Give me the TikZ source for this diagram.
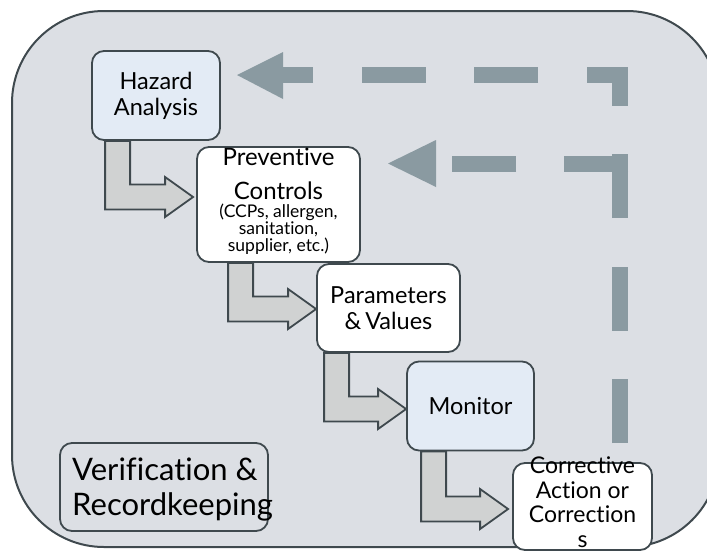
\documentclass[tikz,border=0pt]{standalone}
\usepackage{fontspec}
\setmainfont{Lato}[Ligatures=NoCommon]
\usetikzlibrary{calc}
\definecolor{bgfill}{HTML}{DCDFE4}
\definecolor{edge}{HTML}{3F494E}
\definecolor{bluefill}{HTML}{E3EBF5}
\definecolor{arrfill}{HTML}{D0D2D2}
\definecolor{dashcol}{HTML}{8A9AA1}
\newcommand{\bentarrow}[4]{%
  \coordinate (S) at ($(#1.south west)+(#2,0)$);
  \coordinate (T) at ($(#3.west)+(#4)$);
  \draw[bentarr] (S) -- ($(S|-T)+(0,12.5)$) -- ($(T)+(-28,12.5)$) -- ($(T)+(-28,20)$) -- (T)
    -- ($(T)+(-28,-20)$) -- ($(T)+(-28,-12.5)$) -- ($(S|-T)+(25,-12.5)$) -- ($(S)+(25,0)$) -- cycle;}
\begin{document}
\begin{tikzpicture}[x=1pt,y=-1pt,
  box/.style={draw=edge,line width=1.8pt,rounded corners=12pt,inner sep=0pt,align=center},
  bentarr/.style={draw=edge,fill=arrfill,line width=1.8pt,line join=miter},
  fb/.style={draw=dashcol,line width=16pt,line join=miter},
  mainfont/.style={font=\fontsize{23.5}{26}\selectfont}]
\useasboundingbox (0,0) rectangle (707,552);
\begin{scope}
  \clip (0,0) rectangle (707,552);
  \draw[edge,fill=bgfill,line width=2pt,rounded corners=92pt] (12,11) rectangle (719,547);
\end{scope}

% feedback dashed arrows
\coordinate (fbstart) at (620,443);
\coordinate (fbcorner) at (620,75);
\coordinate (fbend) at (283,75);
\draw[fb,dash pattern=on 64pt off 48.5pt] (fbstart) -- (fbcorner) -- (fbend);
\fill[dashcol] (283,52) -- (237,75) -- (283,99) -- cycle;
\coordinate (fbinA) at (628,163.5);
\coordinate (fbinB) at (436,163.5);
\draw[fb,dash pattern=on 64pt off 48pt on 64pt off 200pt] (fbinA) -- (fbinB);
\fill[dashcol] (436,140) -- (388,163.5) -- (436,187) -- cycle;

% boxes
\node[box,fill=bluefill,minimum width=128pt,minimum height=89pt,mainfont] (hazard) at (156,95.5) {Hazard\\Analysis};
\node[box,fill=white,minimum width=163pt,minimum height=115pt,text height=98pt,text depth=5pt,font=\fontsize{24}{17}\selectfont] (prev) at (278.5,204.5)
  {Preventive\\[15pt]Controls\\[1pt]{\fontsize{17.5}{17}\selectfont (CCPs, allergen,}\\{\fontsize{17.5}{17}\selectfont sanitation,}\\{\fontsize{17.5}{17}\selectfont supplier, etc.)}};
\node[box,fill=white,minimum width=143pt,minimum height=88pt,mainfont] (param) at (388.5,308) {Parameters\\\&\,Values};
\node[box,fill=bluefill,minimum width=127pt,minimum height=89pt,mainfont] (monitor) at (470.5,406) {Monitor};
\node[box,fill=white,minimum width=139pt,minimum height=87pt] (corr) at (582.5,506.5) {};
\node[align=center,inner sep=0pt,anchor=north,font=\fontsize{23}{24.5}\selectfont] (corrtext) at (582.5,457)
  {Corrective\\Action or\\Correction\\s};
\node[box,minimum width=208pt,minimum height=88pt] (verif) at (164,487) {};
\node[align=left,inner sep=0pt,anchor=base west,font=\fontsize{31}{35}\selectfont] (veriftext) at (72,515)
  {Verification \&\\Recordkeeping};

% bent arrows
\bentarrow{hazard}{14}{prev}{-3,-7.5}
\bentarrow{prev}{32}{param}{0,1}
\bentarrow{param}{8}{monitor}{0,3}
\bentarrow{monitor}{15}{corr}{-4,2.5}
\end{tikzpicture}
\end{document}
